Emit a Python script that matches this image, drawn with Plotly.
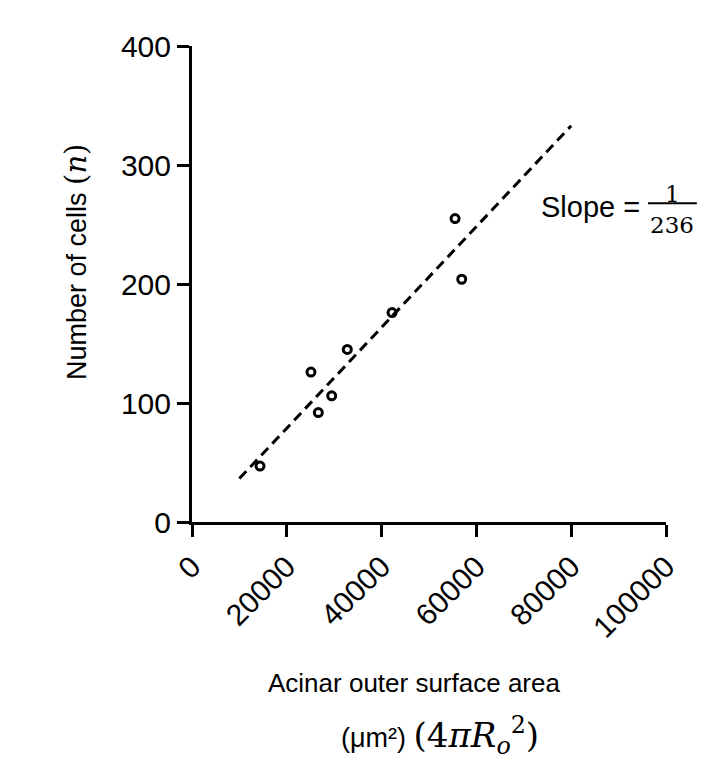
import plotly.graph_objects as go

# Data
area = [14350, 25100, 26650, 29470, 32760, 42200, 55500, 56900]
cells = [47, 126, 92, 106, 145, 176, 255, 204]
fit_x = [10000, 80000]
fit_y = [36.5, 333]

x_ticks = [0, 20000, 40000, 60000, 80000, 100000]
y_ticks = [0, 100, 200, 300, 400]

FONT = "Liberation Sans, Arial, sans-serif"
SERIF = "DejaVu Serif"

fig = go.Figure()
fig.add_trace(go.Scatter(
    x=fit_x, y=fit_y, mode="lines",
    line=dict(color="black", width=3, dash="10px,6px"),
    showlegend=False, hoverinfo="skip"))
fig.add_trace(go.Scatter(
    x=area, y=cells, mode="markers",
    marker=dict(symbol="circle-open", size=8, color="black",
                line=dict(color="black", width=3)),
    showlegend=False))

axis_common = dict(
    showline=True, linecolor="black", linewidth=3,
    ticks="outside", ticklen=12, tickwidth=3, tickcolor="black",
    showgrid=False, zeroline=False,
    tickfont=dict(family=FONT, size=30, color="black"),
)
fig.update_xaxes(range=[0, 100000], tickvals=x_ticks,
                 ticktext=[str(v) for v in x_ticks], tickangle=-45,
                 **axis_common)
fig.update_yaxes(range=[0, 400], tickvals=y_ticks,
                 ticktext=[str(v) for v in y_ticks], **axis_common)

ann = [
    dict(text=f"Number of cells <span style=\"font-family:{SERIF};font-size:29px\">(<i>n</i>)</span>",
         x=-0.245, y=0.546, textangle=-90, font=dict(size=27)),
    dict(text="Acinar outer surface area", x=0.468, y=-0.339, font=dict(size=26)),
    dict(text=f"(μm²) <span style=\"font-family:{SERIF};font-size:34px\">(4<i>πR</i><sub><i>o</i></sub><sup>2</sup>)</span>",
         x=0.523, y=-0.448, font=dict(size=27)),
    dict(text="Slope =", x=0.84, y=0.661, font=dict(size=29)),
    dict(text="1", x=1.013, y=0.69, font=dict(size=23, family=SERIF)),
    dict(text="236", x=1.013, y=0.623, font=dict(size=23, family=SERIF)),
]
for a in ann:
    f = dict(family=FONT, color="black")
    f.update(a.pop("font"))
    fig.add_annotation(xref="paper", yref="paper", showarrow=False,
                       xanchor="center", yanchor="middle", font=f, **a)

fig.add_shape(type="line", xref="paper", yref="paper",
              x0=0.962, x1=1.065, y0=0.6695, y1=0.6695,
              line=dict(color="black", width=2))

fig.update_layout(
    width=714, height=769,
    margin=dict(l=192, r=48, t=46, b=247),
    paper_bgcolor="white", plot_bgcolor="white",
    font=dict(family=FONT, color="black"),
)

fig.write_html("out.html", config={"displayModeBar": False},
               post_script="document.body.style.margin='0';")
